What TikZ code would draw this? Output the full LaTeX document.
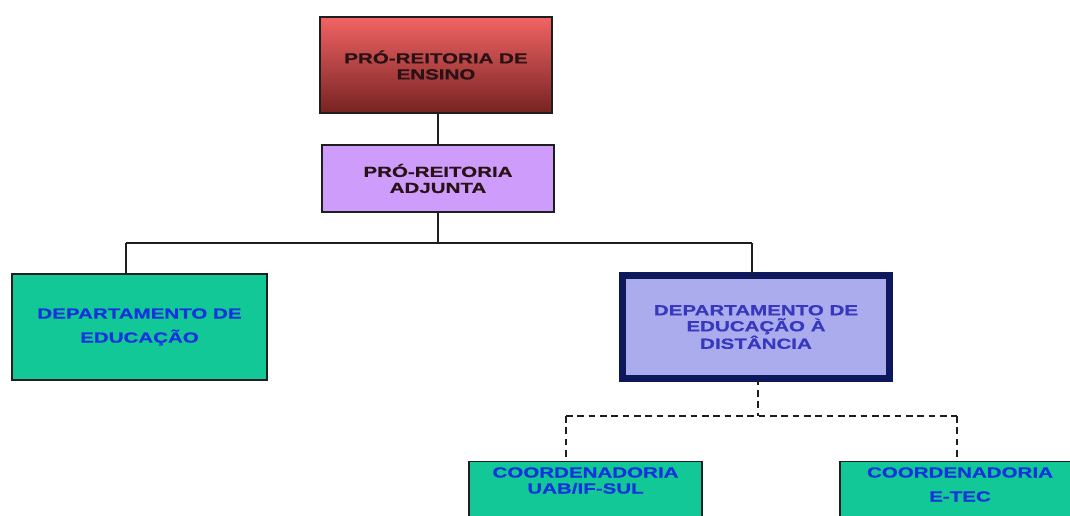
\documentclass[tikz,border=0pt]{standalone}
\usepackage{fontspec}
\newfontfamily\boxfont[FakeStretch=1.4,FakeBold=0.6]{Liberation Sans}
\definecolor{redtop}{RGB}{242,100,100}
\definecolor{redmid}{RGB}{222,74,74}
\definecolor{redbot}{RGB}{118,34,34}
\definecolor{violetfill}{RGB}{206,156,250}
\definecolor{greenfill}{RGB}{18,200,150}
\definecolor{lavfill}{RGB}{170,172,238}
\definecolor{navyedge}{RGB}{14,24,92}
\definecolor{darktext}{RGB}{40,18,22}
\definecolor{bluetext}{RGB}{20,50,222}
\definecolor{slatetext}{RGB}{56,56,190}
\definecolor{edge}{RGB}{30,30,30}
\tikzset{
  box/.style={draw=edge, line width=1.1pt, rectangle, inner sep=0pt,
    align=center, font=\boxfont\bfseries\fontsize{11}{12}\selectfont},
  redbox/.style={box, top color=redtop, middle color=redmid, bottom color=redbot,
    text=darktext, minimum width=174pt, minimum height=72pt},
  violetbox/.style={box, fill=violetfill, text=darktext,
    minimum width=174pt, minimum height=50.25pt},
  greenbox/.style={box, fill=greenfill, text=bluetext},
  lavbox/.style={box, draw=navyedge, line width=5.25pt, fill=lavfill, text=slatetext,
    minimum width=200.25pt, minimum height=77.25pt},
  caption/.style={inner sep=0pt, align=center, text=bluetext,
    font=\boxfont\bfseries\fontsize{11}{12}\selectfont},
  link/.style={draw=edge, line width=1.4pt},
  dlink/.style={draw=edge, line width=1.4pt, dash pattern=on 5pt off 3.5pt}
}
\begin{document}
\begin{tikzpicture}[x=0.75pt, y=-0.75pt]
\useasboundingbox (0,0) rectangle (1070,515);
\clip (0,0) rectangle (1070,515);
\fill[white] (0,0) rectangle (1070,515);

% branch points of the connectors
\coordinate (axis) at (438,0);
\coordinate (busL) at (126,243);
\coordinate (busR) at (752,243);
\coordinate (busM) at (438,243);
\coordinate (dashM) at (758,416);
\coordinate (dashL) at (566,416);
\coordinate (dashR) at (957,416);

% boxes
\node[redbox] (pre) at (436,65) {PRÓ-REITORIA DE\\ENSINO};
\node[violetbox] (adj) at (438,178.5) {PRÓ-REITORIA\\ADJUNTA};
\node[greenbox, minimum width=191.25pt, minimum height=79.5pt] (dep) at (139.5,327)
  {DEPARTAMENTO DE\\[6pt]EDUCAÇÃO};
\node[lavbox] (dead) at (756,327) {DEPARTAMENTO DE\\EDUCAÇÃO À\\DISTÂNCIA};
\node[greenbox, anchor=north, minimum width=174.75pt, minimum height=79.5pt] (uab) at (585.5,461) {};
\node[greenbox, anchor=north, minimum width=180pt, minimum height=79.5pt] (etec) at (960,461) {};
\node[caption, anchor=north] (uabt) at (585.5,467) {COORDENADORIA\\UAB/IF-SUL};
\node[caption, anchor=north] (etect) at (960,467) {COORDENADORIA\\[6pt]E-TEC};

% solid hierarchy
\draw[link] (pre.south -| axis) -- (adj.north -| axis);
\draw[link] (adj.south -| axis) -- (busM);
\draw[link] (busL) -- (busR);
\draw[link] (busL) -- (dep.north -| busL);
\draw[link] (busR) -- ([yshift=-2.6pt]dead.north -| busR);

% dashed coordination links
\draw[dlink] ([yshift=2.6pt]dead.south -| dashM) -- (dashM);
\draw[dlink] (dashL) -- (dashR);
\draw[dlink] (dashL) -- (uab.north -| dashL);
\draw[dlink] (dashR) -- (etec.north -| dashR);
\end{tikzpicture}
\end{document}
